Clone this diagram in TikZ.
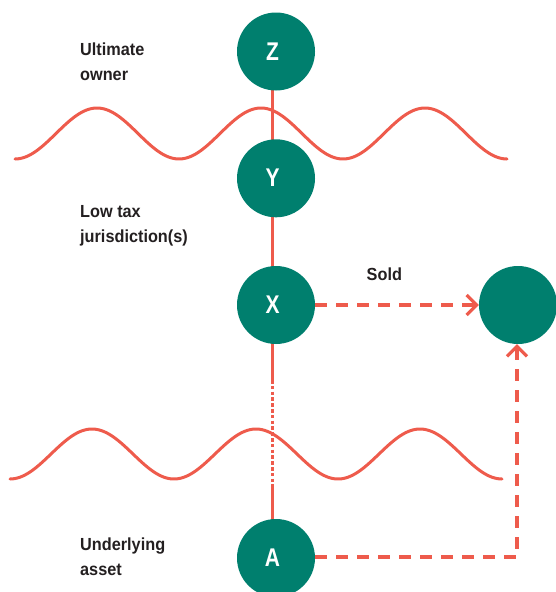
\documentclass[tikz,border=0pt]{standalone}
\usepackage{fontspec}
\usetikzlibrary{arrows.meta}
\newfontfamily\lblfont{Liberation Sans Bold}[FakeStretch=0.93]
\newfontfamily\circfont{Liberation Sans Bold}[FakeStretch=0.82]
\definecolor{teal}{HTML}{007F6E}
\definecolor{redl}{HTML}{EE5B4C}
\definecolor{txt}{HTML}{231F20}
\pgfdeclarelayer{bg}
\pgfsetlayers{bg,main}
\tikzset{
  circ/.style={circle, fill=teal, minimum size=78pt, inner sep=0pt},
  letter/.style={text=white, font=\circfont\fontsize{25.6}{26}\selectfont, inner sep=0pt},
  lbl/.style={text=txt, font=\lblfont\fontsize{17.5}{25}\selectfont, align=left, inner sep=0pt, anchor=base west},
  solidline/.style={draw=redl, line width=2.8pt},
  dotline/.style={draw=redl, line width=3.2pt, dash pattern=on 3.6pt off 2.2pt},
  dashline/.style={draw=redl, line width=3.2pt, dash pattern=on 12pt off 9pt},
  wave/.style={draw=redl, line width=3pt, line cap=round},
  tip/.style={-{Straight Barb[length=10pt,width=20pt,line width=3.2pt]}}
}
\begin{document}
\begin{tikzpicture}[x=1pt,y=-1pt]
\useasboundingbox (0,0) rectangle (555,592);
% circles
\node[circ] (Z) at (276,51.5) {};
\node[circ] (Y) at (276,178.3) {};
\node[circ] (X) at (276,305) {};
\node[circ] (A) at (276,558) {};
\node[circ] (B) at (518,305) {};
% letters
\node[letter] (Zt) at (272.5,51.5) {Z};
\node[letter] (Yt) at (272.5,177.5) {Y};
\node[letter] (Xt) at (272.5,305) {X};
\node[letter] (At) at (272.5,558) {A};
% labels (anchored at the baseline of their last line)
\node[lbl] (L1) at (80,80) {Ultimate\\owner};
\node[lbl] (L2) at (80,242) {Low tax\\jurisdiction(s)};
\node[lbl] (L3) at (80,575) {Underlying\\asset};
\node[lbl] (L4) at (366.5,280) {Sold};
% connectors
\coordinate (d1) at (272.5,380);
\coordinate (d2) at (272.5,487);
\coordinate (corner) at (517,557);
\begin{pgfonlayer}{bg}
\draw[solidline] (Zt.center) -- (Yt.center);
\draw[solidline] (Yt.center) -- (Xt.center);
\draw[solidline] (Xt.center) -- (d1);
\draw[dotline] (d1) -- (d2);
\draw[solidline] (d2) -- (At.center);
\end{pgfonlayer}
\draw[dashline, tip] (X.east) -- (B.west);
\draw[dashline, tip] (A.east |- corner) -- (corner) -- (corner |- B.south);
% waves
\draw[wave] plot[domain=15:507, samples=200, smooth] (\x, {133.5+25.5*cos(2.19512*(\x-15))});
\draw[wave] plot[domain=10:502, samples=200, smooth] (\x, {454+25*cos(2.19512*(\x-10))});
\end{tikzpicture}
\end{document}
